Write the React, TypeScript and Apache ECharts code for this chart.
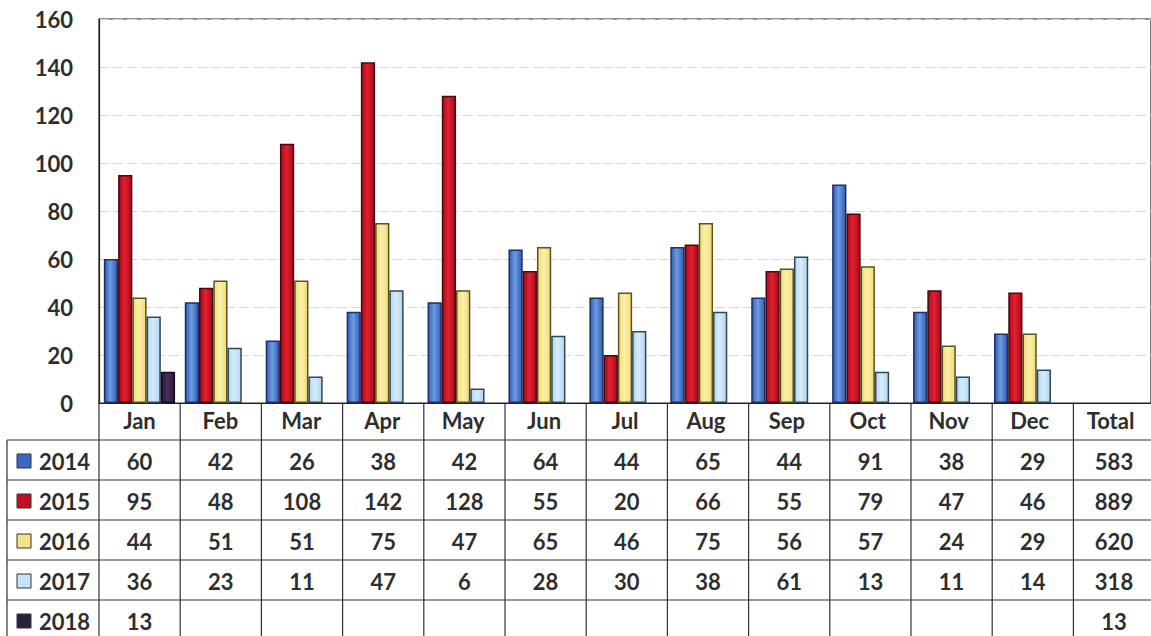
import React, { useEffect, useRef } from "react";
import * as echarts from "echarts";

const categories = ["Jan", "Feb", "Mar", "Apr", "May", "Jun", "Jul", "Aug", "Sep", "Oct", "Nov", "Dec", "Total"];
const seriesNames = ["2014", "2015", "2016", "2017", "2018"];
const v2014 = [60, 42, 26, 38, 42, 64, 44, 65, 44, 91, 38, 29];
const v2015 = [95, 48, 108, 142, 128, 55, 20, 66, 55, 79, 47, 46];
const v2016 = [44, 51, 51, 75, 47, 65, 46, 75, 56, 57, 24, 29];
const v2017 = [36, 23, 11, 47, 6, 28, 30, 38, 61, 13, 11, 14];
const v2018 = [13, null, null, null, null, null, null, null, null, null, null, null];
const totals = [583, 889, 620, 318, 13];
const yTicks = { min: 0, max: 160, interval: 20 };

const seriesValues = [v2014, v2015, v2016, v2017, v2018];

const fills = [
  ["#2f5db8", "#6f9be0", "#2f5db8"],
  ["#a80a1e", "#e2202f", "#a80a1e"],
  ["#f2dc78", "#fbf0a8", "#f2dc78"],
  ["#b2d6ef", "#d6ecfa", "#b2d6ef"],
  ["#2a1838", "#4a2e60", "#2a1838"],
];
const borders = ["#1c2f66", "#4a0810", "#5a5024", "#30475a", "#140a1c"];
const swatch = ["#3a68c4", "#c0101f", "#f5e385", "#c5e3f6", "#2b2138"];

const FONT = "Lato, 'Open Sans', sans-serif";
const TEXT = "#2e2e2e";
const FS = 22;

export default function App() {
  const ref = useRef<HTMLDivElement>(null);
  useEffect(() => {
    if (!ref.current) return;
    const chart = echarts.init(ref.current, null, { renderer: "svg" });

    const gridLeft = 99;
    const gridTop = 19;
    const gridH = 384;
    const colW = 81.2;
    const axisY = gridTop + gridH;
    const headerBottom = 440;
    const rowH = 40;
    const tableLeft = 7;
    const W = 1151;
    const H = 636;

    const g: any[] = [];
    const lineStyle = { stroke: "#333", lineWidth: 1.2 };
    for (let r = 0; r <= 5; r++) {
      const y = headerBottom + r * rowH;
      g.push({ type: "line", shape: { x1: tableLeft, y1: y, x2: W, y2: y }, style: lineStyle, silent: true });
    }
    g.push({ type: "line", shape: { x1: tableLeft, y1: headerBottom, x2: tableLeft, y2: H }, style: lineStyle, silent: true });
    for (let i = 0; i <= categories.length; i++) {
      const x = gridLeft + i * colW;
      g.push({ type: "line", shape: { x1: x, y1: axisY, x2: x, y2: H }, style: lineStyle, silent: true });
    }
    const font = `bold ${FS}px ${FONT}`;
    seriesNames.forEach((name, r) => {
      const cy = headerBottom + r * rowH + rowH / 2 + 1;
      g.push({
        type: "rect",
        shape: { x: 17, y: cy - 7, width: 14, height: 14 },
        style: { fill: swatch[r], stroke: "#333", lineWidth: 1 },
        silent: true,
      });
      g.push({
        type: "text",
        x: 39,
        y: cy,
        style: { text: name, fill: TEXT, font, textVerticalAlign: "middle", textAlign: "left" },
        silent: true,
      });
      const vals = seriesValues[r];
      vals.forEach((v, i) => {
        if (v == null) return;
        g.push({
          type: "text",
          x: gridLeft + (i + 0.5) * colW,
          y: cy,
          style: { text: String(v), fill: TEXT, font, textAlign: "center", textVerticalAlign: "middle" },
          silent: true,
        });
      });
      g.push({
        type: "text",
        x: gridLeft + (12 + 0.5) * colW,
        y: cy,
        style: { text: String(totals[r]), fill: TEXT, font, textAlign: "center", textVerticalAlign: "middle" },
        silent: true,
      });
    });

    const option: any = {
      animation: false,
      backgroundColor: "#ffffff",
      grid: {
        left: gridLeft,
        top: gridTop,
        width: colW * categories.length,
        height: gridH,
        show: true,
        borderColor: "#222",
        borderWidth: 1.2,
        containLabel: false,
      },
      xAxis: {
        type: "category",
        data: categories,
        axisLine: { show: true, lineStyle: { color: "#222", width: 1.2 } },
        axisTick: { show: false },
        axisLabel: { color: TEXT, fontSize: FS, fontWeight: "bold", fontFamily: FONT, margin: 6, interval: 0 },
        splitLine: { show: false },
      },
      yAxis: {
        type: "value",
        min: yTicks.min,
        max: yTicks.max,
        interval: yTicks.interval,
        axisLine: { show: true, lineStyle: { color: "#222", width: 1.2 } },
        axisTick: { show: false },
        axisLabel: { color: TEXT, fontSize: FS, fontWeight: "bold", fontFamily: FONT, margin: 26 },
        splitLine: { show: true, lineStyle: { color: "#d6d6d6", width: 1, type: [10, 4] } },
      },
      series: seriesNames.map((name, k) => ({
        name,
        type: "bar",
        data: [...seriesValues[k], null],
        barGap: "0%",
        barCategoryGap: "12%",
        itemStyle: {
          color: new echarts.graphic.LinearGradient(0, 0, 1, 0, [
            { offset: 0, color: fills[k][0] },
            { offset: 0.45, color: fills[k][1] },
            { offset: 1, color: fills[k][2] },
          ]),
          borderColor: borders[k],
          borderWidth: 1.5,
        },
      })),
      graphic: g,
    };
    chart.setOption(option);
    return () => chart.dispose();
  }, []);
  return (
    <div
      ref={ref}
      style={{ position: "fixed", left: 0, top: 0, width: 1151, height: 636, background: "#fff" }}
    />
  );
}
